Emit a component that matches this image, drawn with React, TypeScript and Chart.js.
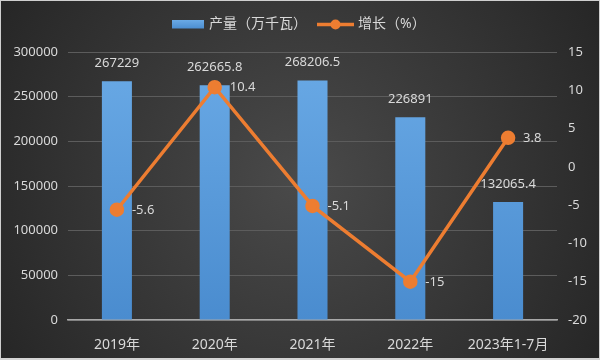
import React, { useEffect, useRef } from "react";
import { Chart, registerables } from "chart.js";

Chart.register(...registerables);

const categories = ["2019年", "2020年", "2021年", "2022年", "2023年1-7月"];
const outputValues = [267229, 262665.8, 268206.5, 226891, 132065.4];
const growthValues = [-5.6, 10.4, -5.1, -15, 3.8];
const outputLabel = "产量（万千瓦）";
const growthLabel = "增长（%）";

const FONT = "'Noto Sans', 'Noto Sans CJK SC', sans-serif";
const TEXT = "#d9d9d9";
const BLUE = "#5b9bd5";
const ORANGE = "#ed7d31";

const bgPlugin = {
  id: "bg",
  beforeDraw(chart: any) {
    const { ctx, width, height } = chart;
    ctx.save();
    const g = ctx.createRadialGradient(width / 2, height / 2, 0, width / 2, height / 2, Math.hypot(width, height) / 2);
    g.addColorStop(0, "#4a4a4a");
    g.addColorStop(1, "#262626");
    ctx.fillStyle = g;
    ctx.fillRect(0, 0, width, height);
    ctx.strokeStyle = "#cfcfcf";
    ctx.lineWidth = 1;
    ctx.strokeRect(0.5, 0.5, width - 1, height - 1);
    ctx.fillStyle = "#d4d4d4";
    ctx.fillRect(0, height - 2, width, 2);
    ctx.restore();
  },
};

const legendPlugin = {
  id: "customLegend",
  afterDraw(chart: any) {
    const { ctx } = chart;
    ctx.save();
    const y = 24.5;
    const g = ctx.createLinearGradient(0, 20, 0, 29);
    g.addColorStop(0, "#6aaae6");
    g.addColorStop(1, "#4a8ccf");
    ctx.fillStyle = g;
    ctx.fillRect(172, 20, 32, 8.5);
    ctx.font = `14px ${FONT}`;
    ctx.fillStyle = TEXT;
    ctx.textBaseline = "middle";
    ctx.textAlign = "left";
    ctx.fillText(outputLabel, 209, y);
    ctx.strokeStyle = ORANGE;
    ctx.lineWidth = 3.5;
    ctx.beginPath();
    ctx.moveTo(317, y);
    ctx.lineTo(354, y);
    ctx.stroke();
    ctx.fillStyle = ORANGE;
    ctx.beginPath();
    ctx.arc(335.5, y, 5, 0, Math.PI * 2);
    ctx.fill();
    ctx.fillStyle = TEXT;
    ctx.fillText(growthLabel, 358, y);
    ctx.restore();
  },
};

const labelPlugin = {
  id: "valueLabels",
  afterDatasetsDraw(chart: any) {
    const { ctx } = chart;
    ctx.save();
    ctx.font = `13px ${FONT}`;
    ctx.fillStyle = TEXT;
    ctx.textBaseline = "middle";
    chart.data.datasets.forEach((ds: any, i: number) => {
      const meta = chart.getDatasetMeta(i);
      meta.data.forEach((el: any, j: number) => {
        const v = ds.data[j];
        if (ds.type === "bar") {
          ctx.textAlign = "center";
          ctx.fillText(String(v), el.x, el.y - 18);
        } else {
          ctx.textAlign = "left";
          ctx.fillText(String(v), el.x + 15, el.y + 0.5);
        }
      });
    });
    ctx.restore();
  },
};

export default function App() {
  const ref = useRef<HTMLCanvasElement>(null);
  useEffect(() => {
    if (!ref.current) return;
    const chart = new Chart(ref.current, {
      data: {
        labels: categories,
        datasets: [
          {
            type: "line",
            label: growthLabel,
            data: growthValues,
            yAxisID: "y1",
            borderColor: ORANGE,
            backgroundColor: ORANGE,
            borderWidth: 3.5,
            pointRadius: 5.5,
            pointBackgroundColor: ORANGE,
            pointBorderColor: ORANGE,
            tension: 0,
            order: 0,
          } as any,
          {
            type: "bar",
            label: outputLabel,
            data: outputValues,
            yAxisID: "y",
            backgroundColor: (c: any) => {
              const area = c.chart.chartArea;
              if (!area) return BLUE;
              const g = c.chart.ctx.createLinearGradient(0, area.top, 0, area.bottom);
              g.addColorStop(0, "#6aaae6");
              g.addColorStop(1, "#4a8ccf");
              return g;
            },
            barPercentage: 0.307,
            categoryPercentage: 1,
            order: 1,
          } as any,
        ],
      },
      options: {
        responsive: false,
        animation: false,
        layout: { padding: { top: 52, left: 0, right: 0, bottom: 0 } },
        plugins: { legend: { display: false }, tooltip: { enabled: false } },
        scales: {
          x: {
            grid: { display: false },
            border: { display: true, color: "#a8a8a8", width: 1.5 },
            ticks: { color: TEXT, font: { family: FONT, size: 14 }, padding: 9, maxRotation: 0, autoSkip: false },
            afterFit: (s: any) => { s.height = 40; },
          },
          y: {
            position: "left",
            min: 0,
            max: 300000,
            ticks: { stepSize: 50000, color: TEXT, font: { family: FONT, size: 13 }, padding: 10, callback: (v: any) => String(v) },
            grid: { color: "#5c5c5c", lineWidth: 1, drawTicks: false },
            border: { display: false },
            afterFit: (s: any) => { s.width = 68; },
          },
          y1: {
            position: "right",
            min: -20,
            max: 15,
            ticks: { stepSize: 5, color: TEXT, font: { family: FONT, size: 13 }, padding: 11, callback: (v: any) => String(v) },
            grid: { display: false, drawTicks: false },
            border: { display: false },
            afterFit: (s: any) => { s.width = 43; },
          },
        },
      },
      plugins: [bgPlugin, legendPlugin, labelPlugin],
    });
    return () => chart.destroy();
  }, []);
  return (
    <div style={{ position: "fixed", left: 0, top: 0, width: 600, height: 360 }}>
      <canvas ref={ref} width={600} height={360} style={{ display: "block" }} />
    </div>
  );
}
